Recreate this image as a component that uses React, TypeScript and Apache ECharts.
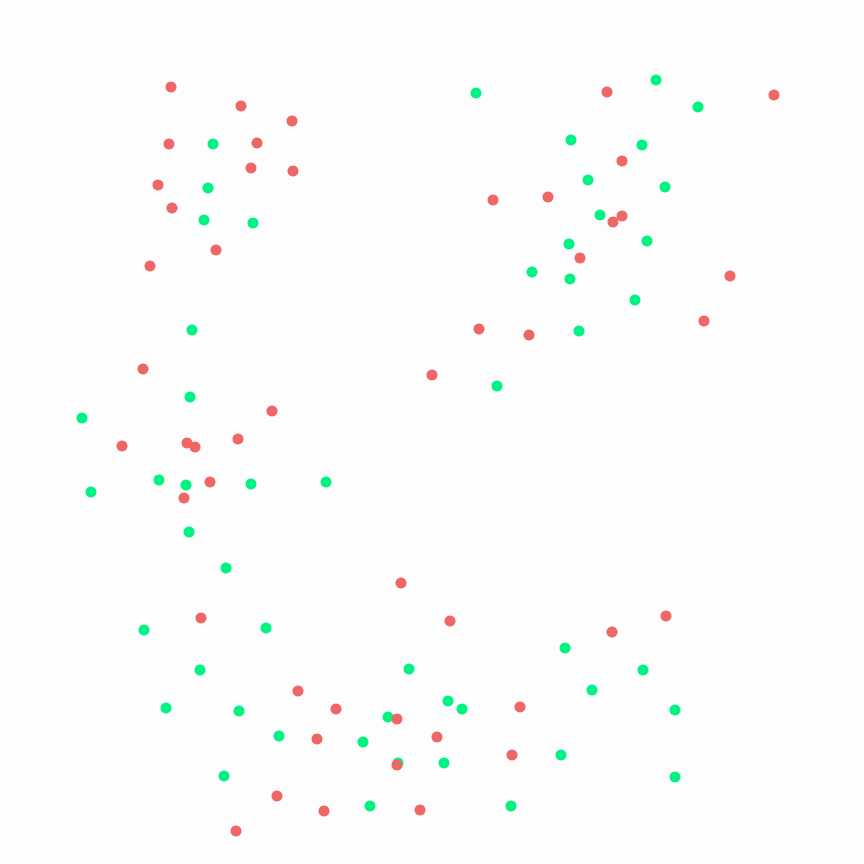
import React, { useEffect, useRef } from "react";
import * as echarts from "echarts";

// Points (x to the right, y downwards, domain 0..864)
const greenPoints: [number, number][] = [
  [476, 93], [656, 80], [698, 107], [213, 144], [571, 140], [642, 145],
  [208, 188], [588, 180], [665, 187], [204, 220], [253, 223], [600, 215],
  [569, 244], [647, 241], [532, 272], [570, 279], [635, 300], [192, 330],
  [579, 331], [497, 386], [190, 397], [82, 418], [91, 492], [159, 480],
  [186, 485], [251, 484], [326, 482], [189, 532], [226, 568], [144, 630],
  [266, 628], [565, 648], [200, 670], [409, 669], [643, 670], [592, 690],
  [448, 701], [462, 709], [166, 708], [239, 711], [675, 710], [388, 717],
  [279, 736], [363, 742], [398, 763], [444, 763], [561, 755], [224, 776],
  [675, 777], [370, 806], [511, 806],
];

const redPoints: [number, number][] = [
  [171, 87], [241, 106], [292, 121], [169, 144], [257, 143], [251, 168],
  [293, 171], [158, 185], [172, 208], [216, 250], [150, 266], [143, 369],
  [272, 411], [122, 446], [187, 443], [195, 447], [238, 439], [210, 482],
  [184, 498], [607, 92], [774, 95], [622, 161], [493, 200], [548, 197],
  [622, 216], [613, 222], [580, 258], [730, 276], [704, 321], [479, 329],
  [529, 335], [432, 375], [401, 583], [450, 621], [666, 616], [612, 632],
  [201, 618], [298, 691], [336, 709], [520, 707], [397, 719], [317, 739],
  [437, 737], [397, 765], [512, 755], [277, 796], [324, 811], [420, 810],
  [236, 831],
];

const X_MIN = 0;
const X_MAX = 864;
const Y_MIN = 0;
const Y_MAX = 864;

export default function App() {
  const ref = useRef<HTMLDivElement>(null);
  useEffect(() => {
    if (!ref.current) return;
    const chart = echarts.init(ref.current, undefined, { renderer: "svg" });
    chart.setOption({
      animation: false,
      backgroundColor: "#fdfdfd",
      grid: { left: 0, right: 0, top: 0, bottom: 0, containLabel: false },
      xAxis: {
        type: "value",
        min: X_MIN,
        max: X_MAX,
        show: false,
      },
      yAxis: {
        type: "value",
        min: Y_MIN,
        max: Y_MAX,
        inverse: true,
        show: false,
      },
      series: [
        {
          type: "scatter",
          data: greenPoints,
          symbolSize: 11,
          itemStyle: { color: "#00f283", opacity: 1 },
        },
        {
          type: "scatter",
          data: redPoints,
          symbolSize: 11,
          itemStyle: { color: "#ee6666", opacity: 1 },
        },
      ],
    });
    return () => chart.dispose();
  }, []);
  return (
    <div
      ref={ref}
      style={{ position: "fixed", left: 0, top: 0, width: 864, height: 864 }}
    />
  );
}
